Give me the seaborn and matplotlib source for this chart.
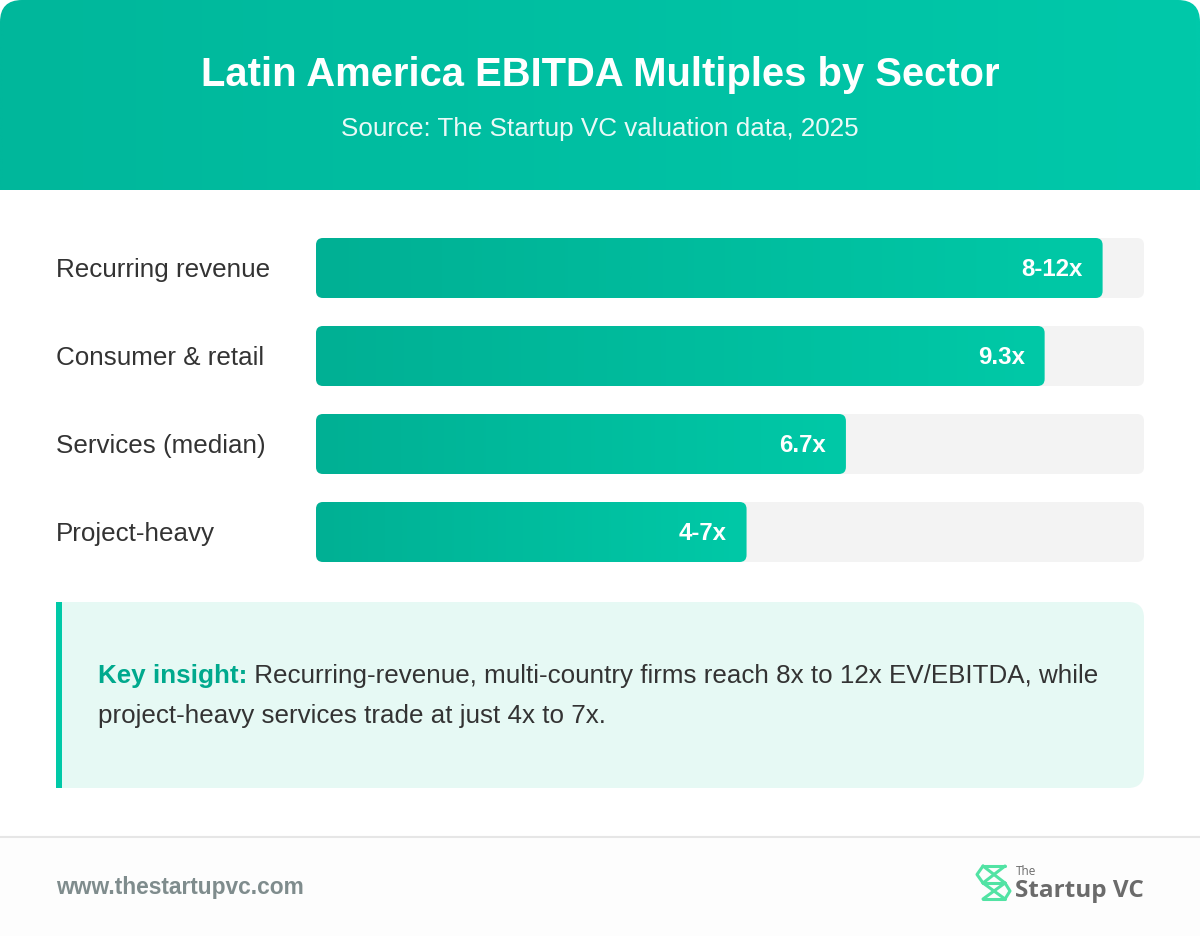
"""EBITDA multiples by sector - horizontal bar card"""
import numpy as np
import pandas as pd
import matplotlib
matplotlib.use("Agg")
import matplotlib.pyplot as plt
import seaborn as sns
from matplotlib.patches import FancyBboxPatch, Rectangle
from matplotlib.colors import LinearSegmentedColormap
from matplotlib.transforms import blended_transform_factory, ScaledTranslation


### Data
sectors = ["Recurring revenue", "Consumer & retail", "Services (median)", "Project-heavy"]
bar_width_pct = [95, 88, 64, 52]   # bar length as % of the track
value_labels = ["8-12x", "9.3x", "6.7x", "4-7x"]

title = "Latin America EBITDA Multiples by Sector"
subtitle = "Source: The Startup VC valuation data, 2025"
insight_key = "Key insight:"
insight_line1 = " Recurring-revenue, multi-country firms reach 8x to 12x EV/EBITDA, while"
insight_line2 = "project-heavy services trade at just 4x to 7x."
footer_url = "www.thestartupvc.com"


W, H = 1200, 936
sns.set_style("white")
plt.rcParams["font.family"] = ["Liberation Sans", "DejaVu Sans"]

teal = LinearSegmentedColormap.from_list("teal", ["#00b094", "#00c9a7"])
grad = np.linspace(0, 1, 512).reshape(1, -1)

fig = plt.figure(figsize=(W / 100, H / 100), dpi=100)
fig.patch.set_facecolor("white")

# background axes in pixel coords (y down)
bg = fig.add_axes([0, 0, 1, 1])
bg.axis("off")

# header with rounded top corners
hdr_clip = FancyBboxPatch((0, 0), W, 240, boxstyle="round,pad=0,rounding_size=22",
                          fc="none", ec="none")
bg.add_patch(hdr_clip)
hdr = bg.imshow(grad, extent=(0, W, 190, 0), cmap=LinearSegmentedColormap.from_list(
    "hdr", ["#00b79b", "#00c9aa"]), aspect="auto", zorder=1)
hdr.set_clip_path(hdr_clip)

bg.text(600, 86, title, ha="center", va="baseline", fontsize=28.8,
        fontweight="bold", color="white", zorder=3)
bg.text(600, 136, subtitle, ha="center", va="baseline", fontsize=18.72,
        color="white", alpha=0.92, zorder=3)

# insight box
bg.add_patch(FancyBboxPatch((56, 602), 1088, 186, boxstyle="round,pad=0,rounding_size=16",
                            fc="#e6f9f4", ec="none", zorder=1))
bg.add_patch(Rectangle((56, 602), 30, 186, fc="#e6f9f4", ec="none", zorder=1))
bg.add_patch(Rectangle((56, 602), 6, 186, fc="#00c9a7", ec="none", zorder=2))
t1 = bg.text(98, 683.5, insight_key, fontsize=18.72, fontweight="bold",
             color="#00a98d", va="baseline", zorder=3)
bg.annotate(insight_line1, xy=(1, 0), xycoords=t1, va="bottom", ha="left",
            fontsize=18.72, color="#333333", zorder=3)
bg.text(98, 723.5, insight_line2, fontsize=18.72, color="#333333",
        va="baseline", zorder=3)

# footer
bg.add_patch(Rectangle((0, 838), W, 98, fc="#fdfdfd", ec="none", zorder=0))
bg.plot([0, W], [837, 837], color="#e6e6e6", lw=1.5, zorder=1)
bg.text(56, 894, footer_url, fontsize=16.4, fontweight="bold", color="#7f8c8d",
        va="baseline", zorder=3)

# logo: icon + wordmark
icon_segs = [
    [(983, 866), (1005, 866)],
    [(983, 866), (977, 874.5), (983, 883)],
    [(1005, 866), (983, 883)],
    [(983, 883), (1005, 883)],
    [(1005, 883), (1010, 891), (1005, 899)],
    [(983, 883), (1005, 899)],
    [(983, 899), (1005, 899)],
    [(983, 866), (1005, 883)],
    [(1005, 883), (983, 899)],
]
for seg in icon_segs:
    xs, ys = zip(*seg)
    bg.plot(xs, ys, color="#52e3a4", lw=2.2, solid_capstyle="round",
            solid_joinstyle="round", zorder=3)
bg.text(1016, 875, "The", fontsize=8.5, color="#6b6b6b", va="baseline", zorder=3,
        family=["Open Sans", "DejaVu Sans"])
bg.text(1015, 897, "Startup VC", fontsize=17.5, fontweight="bold", color="#6b6b6b",
        va="baseline", zorder=3, family=["Open Sans", "DejaVu Sans"])

bg.set_xlim(0, W)
bg.set_ylim(H, 0)

# bar axes: track spans 316..1144 px, rows from 238 to 562 px
ax = fig.add_axes([316 / W, 1 - 562 / H, 828 / W, 324 / H])
ax.patch.set_alpha(0)
df = pd.DataFrame({"sector": sectors, "width_pct": bar_width_pct})
bar_h = 60 / 88
sns.barplot(data=df, x="width_pct", y="sector", ax=ax, orient="h", width=bar_h,
            color="#00b094", saturation=1)
half = bar_h / 2
n = len(sectors)
ax.set_xlim(0, 100)
ax.set_ylim(n - 1 + half, -half)
ax.axis("off")

px_x = 100 / 828
px_y = (n - 1 + 2 * half) / 324
asp = px_y / px_x
rs = 7 * px_x

lbl_tr = blended_transform_factory(fig.transFigure, ax.transData)
lbl_off = ScaledTranslation(0, -9 / 100, fig.dpi_scale_trans)
val_off = ScaledTranslation(0, -8 / 100, fig.dpi_scale_trans)

for i, (p, lab, sec) in enumerate(zip(list(ax.patches), value_labels, sectors)):
    x0, y0, w, h = p.get_x(), p.get_y(), p.get_width(), p.get_height()
    p.remove()
    track = FancyBboxPatch((0, y0), 100, h, boxstyle=f"round,pad=0,rounding_size={rs}",
                           mutation_aspect=asp, fc="#f3f3f3", ec="none", zorder=1)
    ax.add_patch(track)
    bar = FancyBboxPatch((x0, y0), w, h, boxstyle=f"round,pad=0,rounding_size={rs}",
                         mutation_aspect=asp, fc="none", ec="none", zorder=2)
    ax.add_patch(bar)
    im = ax.imshow(grad, extent=(x0, x0 + w, y0 + h, y0), cmap=teal,
                   aspect="auto", interpolation="bilinear", zorder=2)
    im.set_clip_path(bar)
    ax.text(x0 + w - 20 * px_x, i, lab, ha="right", va="baseline",
            fontsize=17.28, fontweight="bold", color="white", zorder=4,
            transform=ax.transData + val_off)
    ax.text(56 / W, i, sec, ha="left", va="baseline", fontsize=18.72,
            color="#333333", transform=lbl_tr + lbl_off, zorder=4)

ax.set_xlim(0, 100)
ax.set_ylim(n - 1 + half, -half)

fig.savefig("out.png", dpi=100, facecolor=fig.get_facecolor())
